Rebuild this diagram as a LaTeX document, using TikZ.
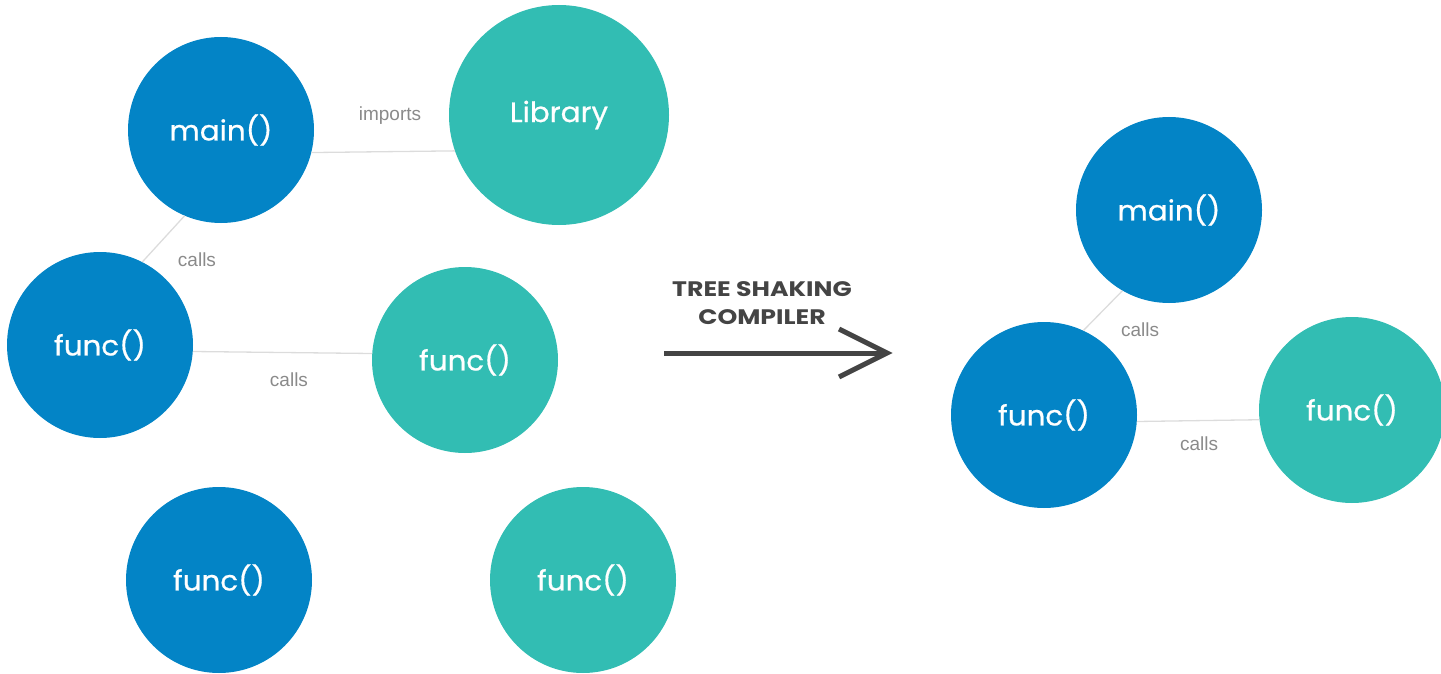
\documentclass[tikz,border=0pt]{standalone}
\usepackage{fontspec}
\setmainfont{Liberation Sans}
\newfontfamily\circfont{Poppins}[FakeBold=0.6, FakeStretch=1.05]
\newfontfamily\titlefont{Poppins}[FakeStretch=1.2]
\definecolor{nodeblue}{HTML}{0384C6}
\definecolor{nodeteal}{HTML}{32BDB3}
\definecolor{edgegray}{HTML}{DCDCDC}
\definecolor{labelgray}{HTML}{8A8A8A}
\definecolor{arrowgray}{HTML}{444444}
\tikzset{
  fn/.style={circle, inner sep=0pt, text=white,
    font=\circfont\fontsize{28}{32}\selectfont},
  kept/.style={fn, fill=nodeblue, minimum size=186pt},
  dropped/.style={fn, fill=nodeteal, minimum size=186pt},
  edge/.style={draw=edgegray, line width=1.3pt},
  elabel/.style={text=labelgray, font=\fontsize{19}{22}\selectfont, inner sep=0pt},
  shake/.style={draw=arrowgray, line width=5pt},
}
\begin{document}
\begin{tikzpicture}[x=1pt, y=-1pt]
\useasboundingbox (0,0) rectangle (1441,674);

% before: the full program graph
\node[kept]    (m1)  at (221,130) {main()};
\node[dropped, minimum size=220pt] (lib) at (559,115) {Library};
\node[kept]    (f1)  at (100,345) {func()};
\node[dropped] (f2)  at (465,360) {func()};
\node[kept]    (f3)  at (219,580) {func()};
\node[dropped] (f4)  at (583,580) {func()};

\draw[edge] (m1.-14) -- (lib.199);
\draw[edge] (m1.247) -- (f1.63);
\draw[edge] (f1.-4) -- (f2.176);

\node[elabel] at (390,116) {imports};
\node[elabel] at (197,260) {calls};
\node[elabel] at (289,380) {calls};

% the compiler step
\node[text=arrowgray, align=center, font=\titlefont\bfseries\fontsize{21}{28}\selectfont]
  (title) at (762,303) {TREE SHAKING\\COMPILER};
\coordinate (a0) at (664,353);
\coordinate (a1) at (887,353);
\coordinate (h1) at (839,329);
\coordinate (h2) at (839,377);
\draw[shake] (a0) -- (a1);
\draw[shake, line join=miter] (h1) -- (a1) -- (h2);

% after: only what is reachable from main()
\node[kept]    (m2) at (1169,210) {main()};
\node[kept]    (g1) at (1044,415) {func()};
\node[dropped] (g2) at (1352,410) {func()};

\draw[edge] (m2.240) -- (g1.65);
\draw[edge] (g1.-4) -- (g2.186);

\node[elabel] at (1140,330) {calls};
\node[elabel] at (1199,444) {calls};
\end{tikzpicture}
\end{document}
